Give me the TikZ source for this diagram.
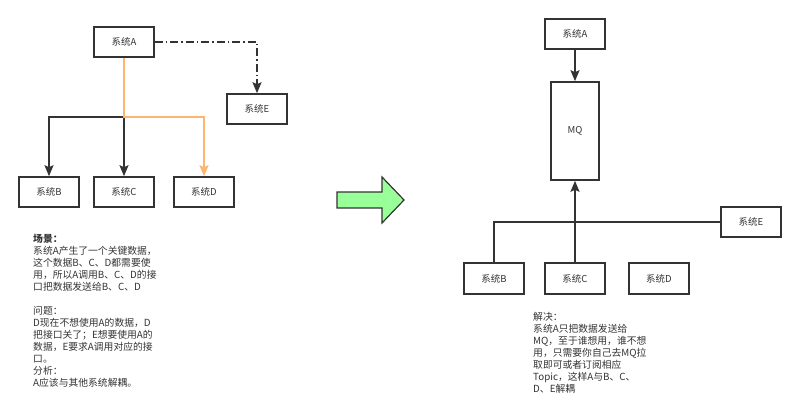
\documentclass[tikz,border=0pt]{standalone}
\usepackage{fontspec}
\setmainfont{Noto Sans CJK SC}
\usetikzlibrary{arrows.meta}
\definecolor{linegray}{HTML}{333333}
\definecolor{textgray}{HTML}{333333}
\definecolor{feedorange}{HTML}{FFB570}
\definecolor{arrowgreen}{HTML}{99FF99}
\tikzset{
  sysbox/.style={draw=linegray, line width=1.6pt, minimum width=60pt, minimum height=30pt,
    inner sep=0pt, text=textgray, font=\fontsize{9.5}{11}\selectfont},
  link/.style={draw=linegray, line width=1.6pt},
  tip/.style={-{Stealth[length=11pt,width=9pt,inset=2pt]}},
  note/.style={anchor=north west, inner sep=0pt, align=left, text=textgray,
    font=\fontsize{9.8}{12}\selectfont}
}
\begin{document}
\begin{tikzpicture}[x=1pt, y=-1pt]
            \useasboundingbox (0,0) rectangle (800,409);
            % before: A calls every system itself
            \node[sysbox] (lA) at (124,42) {系统A};
            \node[sysbox] (lE) at (257,109) {系统E};
            \node[sysbox] (lB) at (49,192) {系统B};
            \node[sysbox] (lC) at (124,192) {系统C};
            \node[sysbox] (lD) at (204,192) {系统D};
            \coordinate (lJ) at (124,117);
            \draw[link, tip] (lJ) -| (lB.north);
            \draw[link, tip] (lJ) -- (lC.north);
            \draw[link, tip, draw=feedorange] (lA.south) -- (lJ) -| (lD.north);
            \draw[link, tip, dash pattern=on 8pt off 3pt on 1.5pt off 3pt] (lA.east) -| (lE.north);
            \node[note] (scene) at (33,234) {\textbf{场景：}\\
              系统A产生了一个关键数据，\\
              这个数据B、C、D都需要使\\
              用，所以A调用B、C、D的接\\
              口把数据发送给B、C、D\\[12pt]
              问题：\\
              D现在不想使用A的数据，D\\
              把接口关了；E想要使用A的\\
              数据，E要求A调用对应的接\\
              口。\\
              分析：\\
              A应该与其他系统解耦。};
            % green arrow
            \draw[draw=linegray, line width=1.2pt, fill=arrowgreen, line join=miter]
              (337,192) -- (382,192) -- (382,177) -- (404,200) -- (382,223) -- (382,208) -- (337,208) -- cycle;
            % after: everything goes through MQ
            \node[sysbox] (rA) at (575,34) {系统A};
            \node[sysbox, minimum width=48pt, minimum height=98pt] (mq) at (575,131) {MQ};
            \node[sysbox, minimum height=31pt] (rB) at (494,278.5) {系统B};
            \node[sysbox, minimum height=31pt] (rC) at (575,278.5) {系统C};
            \node[sysbox, minimum height=31pt] (rD) at (659,278.5) {系统D};
            \node[sysbox] (rE) at (751,222) {系统E};
            \draw[link, tip] (rA.south) -- (mq.north);
            \draw[link, tip] (rC.north) -- (mq.south);
            \draw[link] (rB.north) |- (rE.west);
            \node[note] (fix) at (533,312) {解决：\\
              系统A只把数据发送给\\
              MQ，至于谁想用，谁不想\\
              用，只需要你自己去MQ拉\\
              取即可或者订阅相应\\
              Topic，这样A与B、C、\\
              D、E解耦};
        \end{tikzpicture}
\end{document}
